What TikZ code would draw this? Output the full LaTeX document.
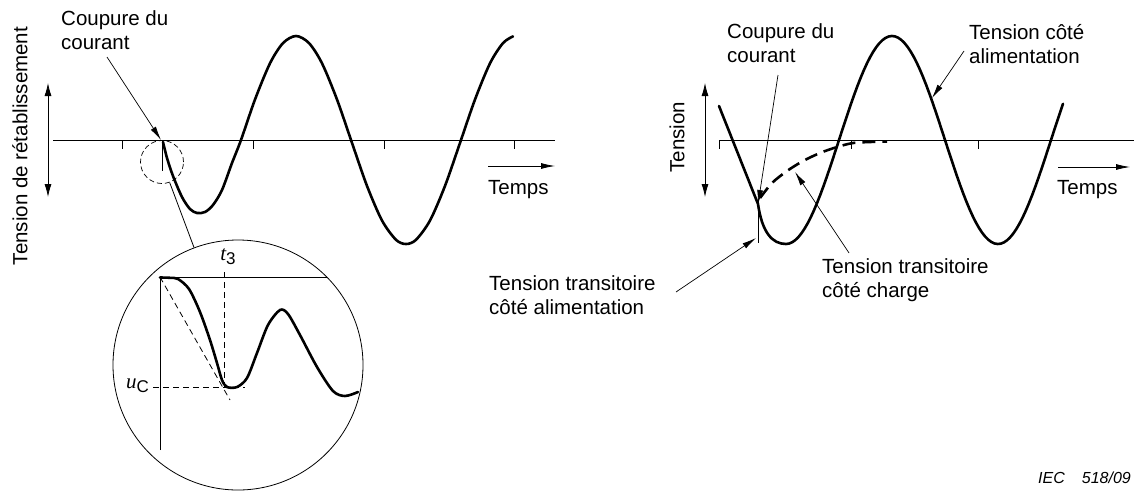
\documentclass[tikz,border=0pt]{standalone}
\usepackage{fontspec}
\setmainfont{Liberation Sans}
\newfontfamily\varserif{Liberation Serif}
\usetikzlibrary{arrows.meta}
\tikzset{
  wave/.style={line width=2.6pt,line join=round,line cap=round},
  loadwave/.style={line width=2.6pt,dash pattern=on 13pt off 7pt},
  axisline/.style={line width=1pt},
  tickmark/.style={line width=0.9pt},
  thinline/.style={line width=0.8pt},
  guide/.style={line width=0.8pt,dash pattern=on 6pt off 4pt},
  pointer/.style={-{Latex[length=14pt,width=6pt]},line width=0.7pt},
  bothways/.style={{Latex[length=13pt,width=7pt]}-{Latex[length=13pt,width=7pt]},line width=0.8pt},
  lbl/.style={anchor=west,inner sep=0pt,align=left,font=\fontsize{20.5}{24.5}\selectfont},
  symb/.style={inner sep=0pt,font=\fontsize{21}{24}\selectfont},
}
\newcommand{\symvar}[2]{{\varserif\itshape #1}\raisebox{-0.35ex}{\fontsize{17}{17}\selectfont #2}}

\begin{document}
\begin{tikzpicture}[x=1pt,y=-1pt]
  \useasboundingbox (0,0) rectangle (1134,490);

  % left: recovery voltage
  \node[lbl,anchor=center,rotate=90] (ylblA) at (20,146) {Tension de rétablissement};
  \coordinate (upA) at (48,83);
  \coordinate (dnA) at (48,197);
  \draw[bothways] (upA) -- (dnA);
  \draw[axisline] (53,140) -- (555,140);
  \foreach \t in {122,253,384,514}
    \draw[tickmark] (\t,140) -- (\t,149);
  \node[lbl] (timeA) at (488,190) {Temps};
  \coordinate (tA1) at (488,166);
  \coordinate (tA2) at (555,166);
  \draw[pointer,line width=0.8pt] (tA1) -- (tA2);

  \node[lbl] (cutlblA) at (61,30) {Coupure du\\courant};
  \coordinate (cutAtail) at (107,57);
  \coordinate (cutA) at (161,140);
  \draw[pointer] (cutAtail) -- (cutA);

  \draw[thinline] (162,140) -- (162,171);
  \draw[wave] plot[smooth] coordinates {(163,142) (167,158) (173,176) (182,197) (190,209)
    (197,213) (205,212) (213,205) (222,190) (232,163) (241,140) (255,99.5) (270,63.3)
    (283,43.1) (296,36) (309,43.1) (322,63.3) (337,99.5) (352,142.9) (367,185.9) (382,220.5)
    (396,239.8) (406,244) (416,239.8) (430,220.5) (445,185.9) (460,142.9) (475,99.5)
    (490,63.3) (503,43.1) (513,36.4)};

  % magnified start
  \node[circle,draw,dash pattern=on 5pt off 3pt,line width=0.7pt,minimum size=43pt,inner sep=0pt] (spot) at (162,162) {};
  \node[circle,draw,line width=0.8pt,minimum size=250pt,inner sep=0pt] (lens) at (238,365) {};
  \draw[thinline] (spot) -- (lens);

  \draw[axisline] (160,450) -- (160,277) -- (327,277);
  \draw[guide] (160,277) -- (230,400);
  \draw[guide] (224,272) -- (224,387);
  \draw[guide] (153,387) -- (245,387);
  \node[symb] (t3) at (228,257) {\symvar{t}{3}};
  \node[symb,anchor=east] (uc) at (149,386) {\symvar{u}{C}};
  \draw[wave] plot[smooth] coordinates {(160,277.5) (170,277.8) (178,279) (189,289) (200,312)
    (210,340) (217,363) (222,380) (227,387) (237,387) (247,378) (257,353) (268,325) (280,310)
    (288,314) (300,335) (317,367) (333,391) (345,396) (358,392)};

  % right: supply and load side
  \node[lbl,anchor=center,rotate=90] (ylblB) at (677,137) {Tension};
  \coordinate (upB) at (705,83);
  \coordinate (dnB) at (705,197);
  \draw[bothways] (upB) -- (dnB);
  \draw[axisline] (719,140) -- (1134,140);
  \foreach \t in {719,851,978}
    \draw[tickmark] (\t,140) -- (\t,149);
  \node[lbl] (timeB) at (1057,190) {Temps};
  \coordinate (tB1) at (1058,167);
  \coordinate (tB2) at (1130,167);
  \draw[pointer,line width=0.8pt] (tB1) -- (tB2);

  \coordinate (cutB) at (758,204);
  \draw[wave] (719,106) -- (cutB) .. controls (762,232) and (772,244) .. (786,244)
    -- plot[domain=0:277,samples=90] ({786+\x},{140+104*cos(1.69811*\x)});
  \draw[thinline] (758,200) -- (758,243);
  \draw[loadwave] plot[smooth] coordinates {(760,198) (772,183) (787,171) (803,161)
    (820,153) (837,147) (853,143) (870,142) (887,141.5)};

  \node[lbl] (cutlblB) at (727,43) {Coupure du\\courant};
  \coordinate (cutBtail) at (778,75);
  \draw[pointer] (cutBtail) -- (cutB);

  \node[lbl] (supplbl) at (969,44) {Tension côté\\alimentation};
  \coordinate (suptail) at (964,51);
  \coordinate (suphead) at (932,98);
  \draw[pointer] (suptail) -- (suphead);

  \node[lbl] (trvsup) at (489,295) {Tension transitoire\\côté alimentation};
  \coordinate (trvsuptail) at (676,292);
  \coordinate (trvsuphead) at (756,238);
  \draw[pointer] (trvsuptail) -- (trvsuphead);

  \node[lbl] (trvload) at (822,280) {Tension transitoire\\côté charge};
  \coordinate (trvloadtail) at (849,253);
  \coordinate (trvloadhead) at (795,172);
  \draw[pointer] (trvloadtail) -- (trvloadhead);

  \node[anchor=west,inner sep=0pt,font=\fontsize{16}{18}\selectfont\itshape] (ref) at (1038,478) {IEC\hspace{17pt}518/09};
\end{tikzpicture}
\end{document}
